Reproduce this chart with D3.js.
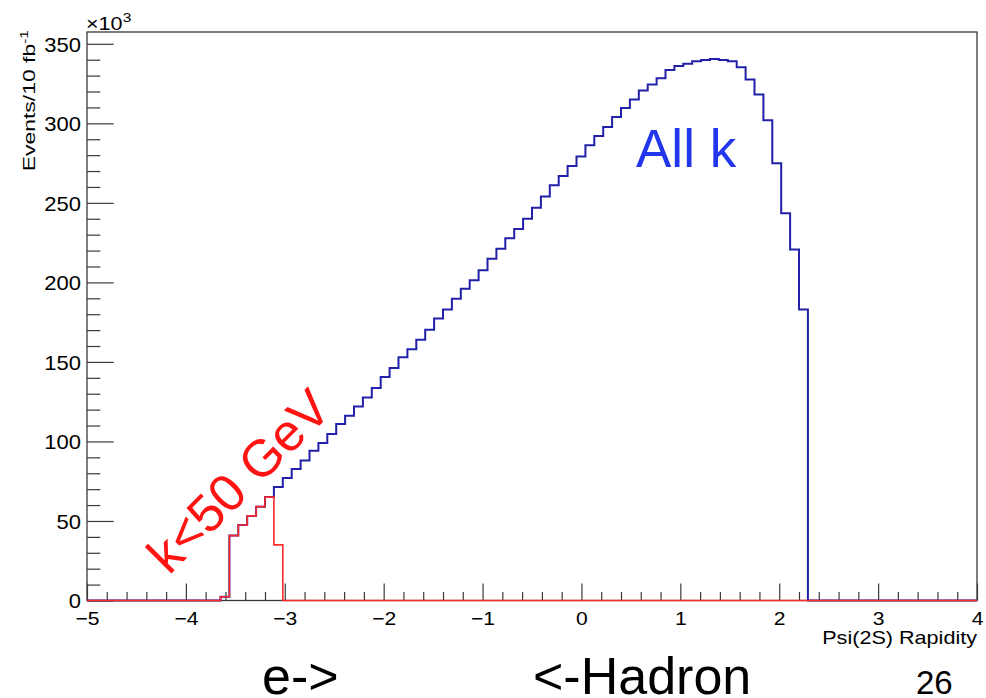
<!DOCTYPE html>
<html>
<head>
<meta charset="utf-8">
<script src="https://cdn.jsdelivr.net/npm/d3@7"></script>
<style>
  html, body { margin: 0; padding: 0; background: #fff; }
  svg { display: block; font-family: "Liberation Sans", Arial, Helvetica, sans-serif; }
</style>
</head>
<body>
<svg id="chart" width="986" height="698"></svg>
<script>
// Psi(2S) rapidity histogram: 100 bins on [-5, 4], counts in units of 10^3 events per 10 fb^-1
const rapidityRange = [-5, 4];
const binCount = 100;

// All photon energies k
const allKCounts = [
  0, 0, 0, 0, 0, 0, 0, 0, 0, 0,
  0, 0, 0, 0, 0, 2.4, 40.8, 47.5, 53.2, 59.0,
  65.0, 71.3, 77.0, 82.6, 88.0, 94.1, 99.0, 104.7, 111.0, 116.2,
  122.0, 127.7, 133.6, 140.5, 146.2, 152.9, 158.0, 164.0, 170.3, 177.3,
  182.9, 189.7, 196.0, 201.4, 207.7, 214.9, 221.2, 227.8, 233.5, 240.0,
  247.0, 254.0, 261.0, 266.9, 273.2, 279.1, 286.2, 292.1, 297.7, 304.0,
  309.6, 315.0, 320.7, 324.4, 328.4, 333.6, 336.0, 337.4, 339.1, 339.8,
  340.4, 339.8, 339.1, 335.3, 327.5, 318.2, 302.0, 274.9, 243.4, 220.7,
  182.9, 0, 0, 0, 0, 0, 0, 0, 0, 0,
  0, 0, 0, 0, 0, 0, 0, 0, 0, 0
];

// Photon energy k < 50 GeV
const lowKCounts = [
  0, 0, 0, 0, 0, 0, 0, 0, 0, 0,
  0, 0, 0, 0, 0, 2.4, 40.8, 47.5, 53.2, 59.0,
  65.0, 35.0, 0, 0, 0, 0, 0, 0, 0, 0,
  0, 0, 0, 0, 0, 0, 0, 0, 0, 0,
  0, 0, 0, 0, 0, 0, 0, 0, 0, 0,
  0, 0, 0, 0, 0, 0, 0, 0, 0, 0,
  0, 0, 0, 0, 0, 0, 0, 0, 0, 0,
  0, 0, 0, 0, 0, 0, 0, 0, 0, 0,
  0, 0, 0, 0, 0, 0, 0, 0, 0, 0,
  0, 0, 0, 0, 0, 0, 0, 0, 0, 0
];

const xMajorTicks = [-5, -4, -3, -2, -1, 0, 1, 2, 3, 4];
const yMajorTicks = [0, 50, 100, 150, 200, 250, 300, 350];
const xMinorStep = 0.2;
const yMinorStep = 10;

const xAxisTitle = "Psi(2S) Rapidity";
const yAxisTitle = "Events/10 fb";
const yAxisTitleSup = "-1";
const yExponentBase = "\u00d710";
const yExponentPower = "3";
const allKLabel = "All k";
const lowKLabel = "k<50 GeV";
const leftBeamLabel = "e->";
const rightBeamLabel = "<-Hadron";
const pageNumber = "26";

// ---- layout ----
const frame = { left: 87, right: 977, top: 32, bottom: 600.5 };
const yMax = d3.max(allKCounts) * 1.05;

const svg = d3.select("#chart");

const x = d3.scaleLinear().domain(rapidityRange).range([frame.left, frame.right]);
const y = d3.scaleLinear().domain([0, yMax]).range([frame.bottom, frame.top]);

const axisColor = "#3a3a3a";
const fmt = v => (v < 0 ? "\u2212" + Math.abs(v) : String(v));

// minor ticks
const xMinor = d3.range(rapidityRange[0], rapidityRange[1] + 1e-9, xMinorStep)
  .filter(v => Math.abs(v - Math.round(v)) > 1e-6);
const yMinor = d3.range(0, yMax, yMinorStep).filter(v => v % 50 !== 0);

const gx = svg.append("g").attr("transform", `translate(0,${frame.bottom})`);
gx.call(d3.axisBottom(x).tickValues(xMinor).tickSize(-8.5).tickFormat(""));
gx.call(g => g.select(".domain").remove());
const gxMajor = svg.append("g").attr("transform", `translate(0,${frame.bottom})`);
gxMajor.call(d3.axisBottom(x).tickValues(xMajorTicks).tickSize(-17).tickFormat(fmt));
gxMajor.select(".domain").remove();
gxMajor.selectAll("text")
  .attr("y", 24.5).attr("dy", null)
  .attr("font-size", 18.5)
  .attr("transform", "scale(1.14,1)")
  .attr("fill", "#000")
  .attr("font-family", null);

const gy = svg.append("g").attr("transform", `translate(${frame.left},0)`);
gy.call(d3.axisLeft(y).tickValues(yMinor).tickSize(-13.3).tickFormat(""));
gy.select(".domain").remove();
const gyMajor = svg.append("g").attr("transform", `translate(${frame.left},0)`);
gyMajor.call(d3.axisLeft(y).tickValues(yMajorTicks).tickSize(-26.7).tickFormat(d => String(d)));
gyMajor.select(".domain").remove();
// labels are stretched horizontally; the x offset is divided by the same factor
gyMajor.selectAll("text")
  .attr("x", -6 / 1.1).attr("dy", "0.36em")
  .attr("font-size", 20)
  .attr("transform", "scale(1.1,1)")
  .attr("fill", "#000")
  .attr("font-family", null);

svg.selectAll(".tick line").attr("stroke", axisColor).attr("stroke-width", 1.2);

// frame
svg.append("rect")
  .attr("x", frame.left).attr("y", frame.top)
  .attr("width", frame.right - frame.left).attr("height", frame.bottom - frame.top)
  .attr("fill", "none").attr("stroke", axisColor).attr("stroke-width", 1.3);

// histogram outlines
const binWidth = (rapidityRange[1] - rapidityRange[0]) / binCount;
function stepPoints(counts) {
  const pts = [];
  counts.forEach((c, i) => {
    const lo = rapidityRange[0] + i * binWidth;
    pts.push([lo, c], [lo + binWidth, c]);
  });
  return pts;
}
const line = d3.line().x(d => x(d[0])).y(d => y(d[1]));

svg.append("path")
  .attr("d", line(stepPoints(allKCounts)))
  .attr("fill", "none").attr("stroke", "#2020a8").attr("stroke-width", 2);

svg.append("path")
  .attr("d", line(stepPoints(lowKCounts)))
  .attr("fill", "none").attr("stroke", "#ff2a2a").attr("stroke-width", 1.6);

// axis titles
svg.append("text")
  .attr("transform", `translate(${frame.right},644) scale(1.2,1)`)
  .attr("text-anchor", "end").attr("font-size", 18)
  .text(xAxisTitle);

const yt = svg.append("text")
  .attr("transform", "translate(35,30) rotate(-90) scale(1.35,1)")
  .attr("text-anchor", "end").attr("font-size", 17);
yt.append("tspan").text(yAxisTitle);
yt.append("tspan").attr("font-size", 11.5).attr("dy", -7.5).text(yAxisTitleSup);

const ex = svg.append("text")
  .attr("transform", "translate(86,30) scale(1.2,1)")
  .attr("font-size", 18);
ex.append("tspan").text(yExponentBase);
ex.append("tspan").attr("font-size", 13).attr("dy", -8).text(yExponentPower);

// annotations
svg.append("text")
  .attr("x", 636).attr("y", 166.5)
  .attr("font-size", 53).attr("fill", "#2236ee")
  .text(allKLabel);

svg.append("text")
  .attr("transform", "translate(169,576) rotate(-45)")
  .attr("font-size", 52).attr("fill", "#ff1414")
  .text(lowKLabel);

svg.append("text")
  .attr("x", 262).attr("y", 694)
  .attr("font-size", 52).attr("fill", "#000")
  .text(leftBeamLabel);

svg.append("text")
  .attr("x", 533).attr("y", 694)
  .attr("font-size", 52).attr("fill", "#000")
  .text(rightBeamLabel);

svg.append("text")
  .attr("x", 916).attr("y", 694)
  .attr("font-size", 33).attr("fill", "#000")
  .text(pageNumber);
</script>
</body>
</html>
